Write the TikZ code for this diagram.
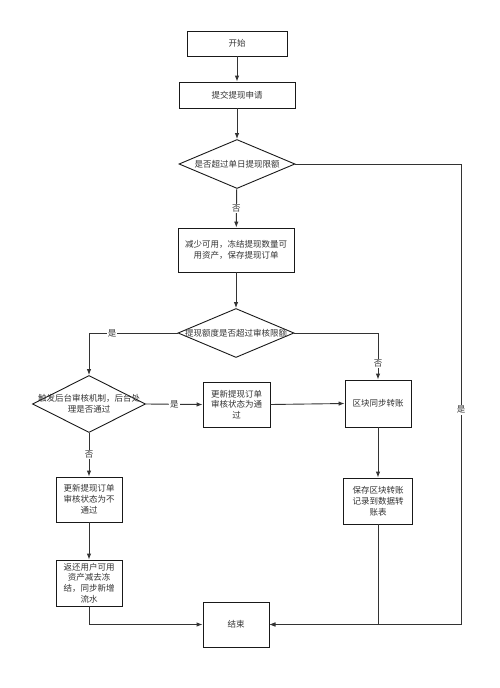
\documentclass[tikz,border=0pt]{standalone}
\usepackage{fontspec}
\setmainfont{Noto Sans CJK SC}
\usetikzlibrary{shapes.geometric,arrows.meta}
\definecolor{ln}{HTML}{333333}
\definecolor{tx}{HTML}{333333}
\tikzset{
  box/.style={draw=black!90, line width=0.9pt, align=center, inner sep=0pt, text=tx, fill=white},
  dia/.style={draw=black!90, line width=0.9pt, diamond, inner sep=0pt, aspect=2},
  txt/.style={align=center, inner sep=0pt, text=tx},
  conn/.style={draw=ln, line width=0.9pt, -{Latex[length=6pt,width=4.5pt]}},
  lab/.style={fill=white, inner sep=1pt, text=tx}
}
\begin{document}
\begin{tikzpicture}[x=1pt,y=-1pt,font=\fontsize{8.5}{10.8}\selectfont]
\useasboundingbox[fill=white] (0,0) rectangle (500,688);
\node[box, minimum width=100pt, minimum height=25pt] (start) at (237,43.5) {开始};
\node[box, minimum width=116pt, minimum height=26pt] (submit) at (237,95) {提交提现申请};
\node[dia, minimum width=116pt, minimum height=49pt] (d1) at (237,164) {};
\node[txt] (d1t) at (d1) {是否超过单日提现限额};
\node[box, minimum width=116pt, minimum height=44pt] (freeze) at (236,250) {减少可用，冻结提现数量可\\用资产，保存提现订单};
\node[dia, minimum width=116pt, minimum height=49pt] (d2) at (236,333) {};
\node[txt] (d2t) at (d2) {提现额度是否超过审核限额};
\node[dia, minimum width=113pt, minimum height=57pt] (d3) at (89,404) {};
\node[txt] (d3t) at (d3) {触发后台审核机制，后台处\\理是否通过};
\node[box, minimum width=67pt, minimum height=45pt] (pass) at (236.5,404.5) {更新提现订单\\审核状态为通\\过};
\node[box, minimum width=66pt, minimum height=47pt] (sync) at (378,403.5) {区块同步转账};
\node[box, minimum width=69pt, minimum height=46pt] (save) at (378,501) {保存区块转账\\记录到数据转\\账表};
\node[box, minimum width=66pt, minimum height=45pt] (end) at (236,624.5) {结束};
\node[box, minimum width=66pt, minimum height=45pt] (reject) at (89,499.5) {更新提现订单\\审核状态为不\\通过};
\node[box, minimum width=66pt, minimum height=46pt] (refund) at (89,583) {返还用户可用\\资产减去冻\\结，同步新增\\流水};
\coordinate (r1) at (461,164);
\draw[conn] (start) -- (submit);
\draw[conn] (submit) -- (d1);
\draw[conn] (d1) -- node[lab, pos=0.5] {否} (freeze);
\draw[conn] (d1.east) -- (r1) |- node[lab, pos=0.267] {是} (end.east);
\draw[conn] (freeze) -- (d2);
\draw[conn] (d2.west) -| node[lab, pos=0.37] {是} (d3.north);
\draw[conn] (d2.east) -| node[lab, pos=0.83] {否} (sync.north);
\draw[conn] (d3.east) -- node[lab, pos=0.5] {是} (pass.west);
\draw[conn] (pass.east) -- (sync.west);
\draw[conn] (sync) -- (save);
\draw[conn] (save.south) |- (end.east);
\draw[conn] (d3) -- node[lab, pos=0.5] {否} (reject);
\draw[conn] (reject) -- (refund);
\draw[conn] (refund.south) |- (end.west);
\end{tikzpicture}
\end{document}
